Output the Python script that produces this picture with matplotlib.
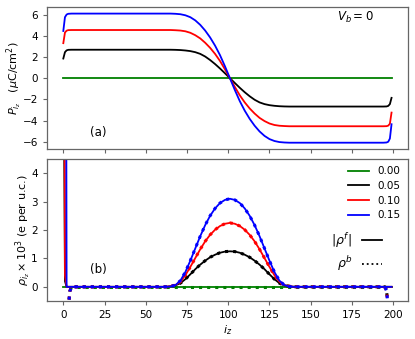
import numpy as np
import matplotlib
matplotlib.use('Agg')
import matplotlib.pyplot as plt
from matplotlib.lines import Line2D

### Data
labels = ['0.00', '0.05', '0.10', '0.15']
colors = ['green', 'k', 'r', 'b']

# polarization profile P(i_z)
iz_P = [0, 1, 2, 3, 5,
        62, 65, 68, 71, 74, 77, 80, 83, 86, 89, 92, 95, 98, 101,
        104, 107, 110, 113, 116, 119, 122, 125, 128, 131, 134, 137, 140,
        194, 196, 197, 198, 199]
P_000 = [0.0]*len(iz_P)
P_005 = [1.85, 2.45, 2.62, 2.67, 2.68,
         2.68, 2.68, 2.67, 2.65, 2.61, 2.55, 2.45, 2.29, 2.04, 1.71, 1.33, 0.91, 0.46, 0.00,
         -0.46, -0.91, -1.33, -1.71, -2.04, -2.29, -2.45, -2.55, -2.61, -2.65, -2.67, -2.68, -2.68,
         -2.68, -2.67, -2.62, -2.45, -1.86]
P_010 = [3.30, 4.30, 4.48, 4.53, 4.54,
         4.54, 4.54, 4.52, 4.49, 4.42, 4.28, 4.05, 3.75, 3.34, 2.86, 2.29, 1.62, 0.83, 0.00,
         -0.83, -1.62, -2.29, -2.86, -3.34, -3.75, -4.05, -4.28, -4.42, -4.49, -4.52, -4.54, -4.54,
         -4.54, -4.53, -4.48, -4.30, -3.25]
P_015 = [4.45, 5.75, 6.00, 6.07, 6.09,
         6.09, 6.09, 6.07, 6.03, 5.93, 5.75, 5.45, 5.03, 4.49, 3.84, 3.07, 2.17, 1.12, 0.00,
         -1.12, -2.17, -3.07, -3.84, -4.49, -5.03, -5.45, -5.75, -5.93, -6.03, -6.07, -6.09, -6.09,
         -6.09, -6.07, -6.00, -5.70, -4.35]

# charge density bump (x 10^3), i_z = 62 ... 140
iz_bump = [62, 65, 68, 71, 74, 77, 80, 83, 86, 89, 92, 95, 98, 101,
           104, 107, 110, 113, 116, 119, 122, 125, 128, 131, 134, 137, 140]
bump_000 = [0.0]*len(iz_bump)
bump_005 = [0.00, 0.02, 0.05, 0.13, 0.27, 0.44, 0.62, 0.78, 0.92, 1.04, 1.13, 1.20, 1.24, 1.25,
            1.24, 1.20, 1.13, 1.04, 0.92, 0.78, 0.62, 0.44, 0.27, 0.13, 0.05, 0.02, 0.00]
bump_010 = [0.00, 0.02, 0.06, 0.18, 0.41, 0.70, 1.01, 1.32, 1.60, 1.83, 2.01, 2.14, 2.22, 2.25,
            2.22, 2.14, 2.01, 1.83, 1.60, 1.32, 1.01, 0.70, 0.41, 0.18, 0.06, 0.02, 0.00]
bump_015 = [0.00, 0.01, 0.06, 0.22, 0.52, 0.92, 1.35, 1.78, 2.17, 2.50, 2.76, 2.95, 3.06, 3.10,
            3.06, 2.95, 2.76, 2.50, 2.17, 1.78, 1.35, 0.92, 0.52, 0.22, 0.06, 0.01, 0.00]

# free charge |rho^f| at the left electrode, i_z = 0, 1, 2 ; and at 199
iz_rf_left = [0, 1, 2]
rf_left = [[0.0, 0.0, 0.0], [10.0, 0.2, 0.0], [25.0, 0.4, 0.0], [60.0, 30.0, 0.0]]
iz_rf_right = [199]
rf_right = [0.0]

# bound charge rho^b near the electrodes
iz_rb_left = [3.5, 4, 5]
rb_left = [[0.0, 0.0, 0.0], [-0.45, -0.15, 0.0], [-0.45, -0.15, 0.0], [-0.45, -0.15, 0.0]]
iz_rb_right = [195, 196, 196.5]
rb_right = [[0.0, 0.0, 0.0], [0.0, -0.15, -0.45], [0.0, -0.15, -0.45], [0.0, -0.15, -0.45]]

P_all = [P_000, P_005, P_010, P_015]
bump_all = [bump_000, bump_005, bump_010, bump_015]

### Plot
fig = plt.figure(figsize=(4.15, 3.39), dpi=100)
ax1 = fig.add_axes([0.113, 0.560, 0.870, 0.419])
ax2 = fig.add_axes([0.113, 0.112, 0.870, 0.419], sharex=ax1)

fs = 7.5
for ax in [ax1, ax2]:
  for sp in ax.spines.values():
    sp.set_color('0.4')
    sp.set_linewidth(0.9)
  ax.tick_params(labelsize=fs, color='0.4', length=3)

# (a) polarization
for k in range(4):
  ax1.plot(iz_P, P_all[k], '-', color=colors[k], lw=1.3)
ax1.set_ylim(-6.7, 6.7)
ax1.set_yticks([-6, -4, -2, 0, 2, 4, 6])
ax1.tick_params(labelbottom=False)
ax1.set_ylabel(r'$P_{i_z}$   ($\mu$C/cm$^2$)', fontsize=fs+0.5, labelpad=-1)
ax1.text(16, -5.1, '(a)', fontsize=fs+1, va='center')
ax1.text(166, 5.75, r'$V_b = 0$', fontsize=fs+1, va='center')

# (b) charge densities
handles = []
for k in range(4):
  xf = iz_rf_left + iz_bump + iz_rf_right
  yf = rf_left[k] + bump_all[k] + rf_right
  xb = iz_rb_left + iz_bump + iz_rb_right
  yb = rb_left[k] + bump_all[k] + rb_right[k]
  h, = ax2.plot(xf, yf, '-', color=colors[k], lw=1.3)
  ax2.plot(xb, yb, ':', color=colors[k], lw=2.2)
  handles.append(h)
ax2.set_ylim(-0.5, 4.5)
ax2.set_yticks([0, 1, 2, 3, 4])
ax2.set_xticks([0, 25, 50, 75, 100, 125, 150, 175, 200])
ax2.set_xlim(-9.95, 208.95)
ax2.set_xlabel(r'$i_z$', fontsize=fs+0.5, labelpad=2)
ax2.set_ylabel(r'$\rho_{i_z}\times 10^3$ (e per u.c.)', fontsize=fs+0.5, labelpad=-1)
ax2.text(16, 0.6, '(b)', fontsize=fs+1, va='center')

leg1 = ax2.legend(handles, labels, loc='upper right', frameon=False, fontsize=fs,
                  handlelength=2.0, labelspacing=0.45, borderaxespad=0.3)
ax2.add_artist(leg1)
h_f = Line2D([], [], color='k', lw=1.3, ls='-')
h_b = Line2D([], [], color='k', lw=1.3, ls=':')
ax2.legend([h_f, h_b], [r'$|\rho^f|$', r'$\rho^b$'], loc='center right',
           bbox_to_anchor=(0.96, 0.345), frameon=False, fontsize=fs+1.5,
           markerfirst=False, handlelength=1.6, labelspacing=0.4)

plt.savefig('out.png', dpi=100)
